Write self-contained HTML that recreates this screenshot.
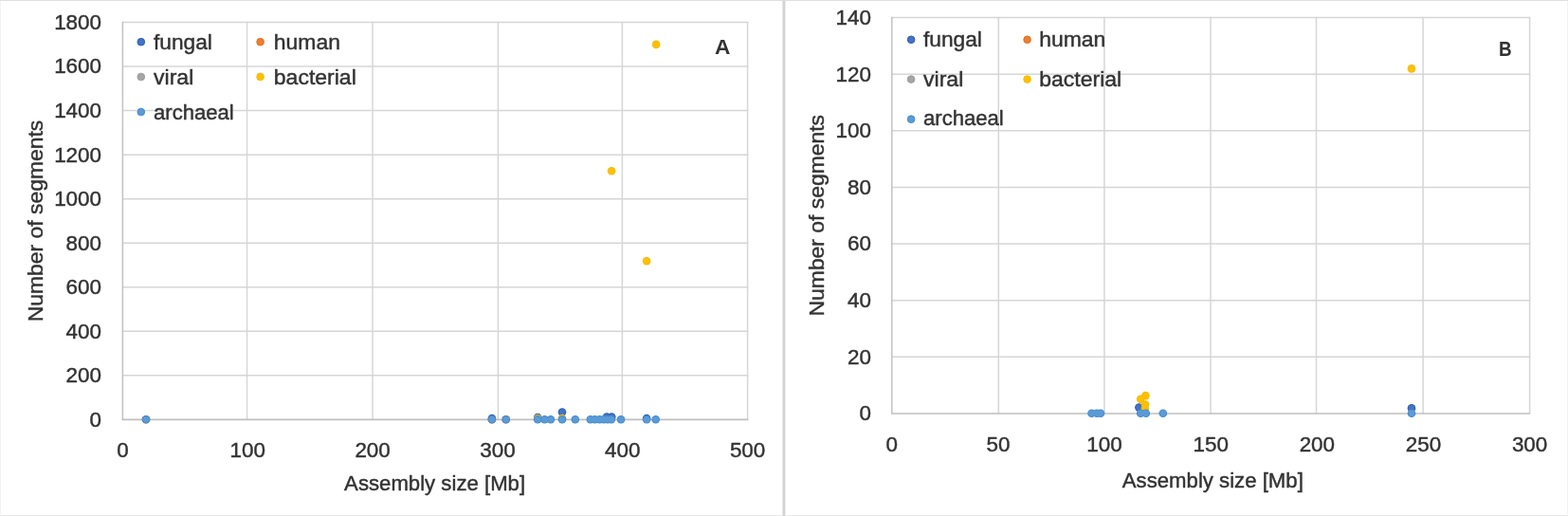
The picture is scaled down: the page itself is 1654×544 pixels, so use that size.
<!DOCTYPE html>
<html><head><meta charset="utf-8"><title>Assembly size vs number of segments</title>
<style>
html,body{margin:0;padding:0;background:#fff;}
body{width:1654px;height:544px;overflow:hidden;position:relative;}
svg{position:absolute;left:0;top:0;display:block;}
svg text{font-family:"Liberation Sans", "DejaVu Sans", sans-serif;font-size:22.8px;fill:#333333;stroke:#333333;stroke-width:0.45px;}
</style></head>
<body>
<svg width="1654" height="544" viewBox="0 0 1654 544">
<rect x="0" y="0" width="1654" height="544" fill="#ffffff"/>
<rect x="0" y="0" width="1654" height="1" fill="#e0e0e0"/>
<rect x="0" y="543" width="1654" height="1" fill="#e8e8e8"/>
<rect x="0" y="0" width="1" height="544" fill="#f2f2f2"/>
<rect x="1653" y="0" width="1" height="544" fill="#f2f2f2"/>
<rect x="825" y="0" width="1" height="544" fill="#e6e6e6"/>
<rect x="826" y="0" width="2" height="544" fill="#d3d3d3"/>
<rect x="828" y="0" width="1" height="544" fill="#eeeeee"/>
<rect x="0" y="0" width="1654" height="1" fill="#e0e0e0"/>
<line x1="129.40" y1="395.86" x2="789.30" y2="395.86" stroke="#d6d6d6" stroke-width="1.5"/>
<line x1="129.40" y1="349.31" x2="789.30" y2="349.31" stroke="#d6d6d6" stroke-width="1.5"/>
<line x1="129.40" y1="302.77" x2="789.30" y2="302.77" stroke="#d6d6d6" stroke-width="1.5"/>
<line x1="129.40" y1="256.22" x2="789.30" y2="256.22" stroke="#d6d6d6" stroke-width="1.5"/>
<line x1="129.40" y1="209.68" x2="789.30" y2="209.68" stroke="#d6d6d6" stroke-width="1.5"/>
<line x1="129.40" y1="163.13" x2="789.30" y2="163.13" stroke="#d6d6d6" stroke-width="1.5"/>
<line x1="129.40" y1="116.59" x2="789.30" y2="116.59" stroke="#d6d6d6" stroke-width="1.5"/>
<line x1="129.40" y1="70.04" x2="789.30" y2="70.04" stroke="#d6d6d6" stroke-width="1.5"/>
<line x1="129.40" y1="23.50" x2="789.30" y2="23.50" stroke="#d6d6d6" stroke-width="1.5"/>
<line x1="129.40" y1="22.80" x2="129.40" y2="442.40" stroke="#c2c2c2" stroke-width="1.5"/>
<line x1="260.50" y1="22.80" x2="260.50" y2="442.40" stroke="#d6d6d6" stroke-width="1.5"/>
<line x1="393.00" y1="22.80" x2="393.00" y2="442.40" stroke="#d6d6d6" stroke-width="1.5"/>
<line x1="525.40" y1="22.80" x2="525.40" y2="442.40" stroke="#d6d6d6" stroke-width="1.5"/>
<line x1="656.40" y1="22.80" x2="656.40" y2="442.40" stroke="#d6d6d6" stroke-width="1.5"/>
<line x1="788.60" y1="22.80" x2="788.60" y2="442.40" stroke="#d6d6d6" stroke-width="1.5"/>
<line x1="128.70" y1="442.40" x2="789.30" y2="442.40" stroke="#bfbfbf" stroke-width="1.7"/>
<text x="107.00" y="449.80" text-anchor="end" textLength="12.47" lengthAdjust="spacingAndGlyphs">0</text>
<text x="107.00" y="403.26" text-anchor="end" textLength="37.41" lengthAdjust="spacingAndGlyphs">200</text>
<text x="107.00" y="356.71" text-anchor="end" textLength="37.41" lengthAdjust="spacingAndGlyphs">400</text>
<text x="107.00" y="310.17" text-anchor="end" textLength="37.41" lengthAdjust="spacingAndGlyphs">600</text>
<text x="107.00" y="263.62" text-anchor="end" textLength="37.41" lengthAdjust="spacingAndGlyphs">800</text>
<text x="107.00" y="217.08" text-anchor="end" textLength="49.87" lengthAdjust="spacingAndGlyphs">1000</text>
<text x="107.00" y="170.53" text-anchor="end" textLength="49.87" lengthAdjust="spacingAndGlyphs">1200</text>
<text x="107.00" y="123.99" text-anchor="end" textLength="49.87" lengthAdjust="spacingAndGlyphs">1400</text>
<text x="107.00" y="77.44" text-anchor="end" textLength="49.87" lengthAdjust="spacingAndGlyphs">1600</text>
<text x="107.00" y="30.90" text-anchor="end" textLength="49.87" lengthAdjust="spacingAndGlyphs">1800</text>
<text x="129.40" y="482.20" text-anchor="middle" textLength="12.47" lengthAdjust="spacingAndGlyphs">0</text>
<text x="261.24" y="482.20" text-anchor="middle" textLength="37.41" lengthAdjust="spacingAndGlyphs">100</text>
<text x="393.08" y="482.20" text-anchor="middle" textLength="37.41" lengthAdjust="spacingAndGlyphs">200</text>
<text x="524.92" y="482.20" text-anchor="middle" textLength="37.41" lengthAdjust="spacingAndGlyphs">300</text>
<text x="656.76" y="482.20" text-anchor="middle" textLength="37.41" lengthAdjust="spacingAndGlyphs">400</text>
<text x="788.60" y="482.20" text-anchor="middle" textLength="37.41" lengthAdjust="spacingAndGlyphs">500</text>
<text x="458.60" y="517.40" text-anchor="middle" textLength="191.0" lengthAdjust="spacingAndGlyphs">Assembly size [Mb]</text>
<text transform="translate(44.70,233.00) rotate(-90)" x="0" y="0" text-anchor="middle" textLength="212.5" lengthAdjust="spacingAndGlyphs">Number of segments</text>
<circle cx="148.80" cy="44.20" r="3.85" fill="#4472C4" stroke="#2A5AB8" stroke-width="0.9"/>
<text x="162.00" y="51.70" textLength="61.91" lengthAdjust="spacingAndGlyphs">fungal</text>
<circle cx="274.60" cy="44.20" r="3.85" fill="#ED7D31" stroke="#E0701F" stroke-width="0.9"/>
<text x="288.80" y="51.70" textLength="70.21" lengthAdjust="spacingAndGlyphs">human</text>
<circle cx="148.80" cy="81.00" r="3.85" fill="#A5A5A5" stroke="#9A9A9A" stroke-width="0.9"/>
<text x="162.00" y="88.50" textLength="42.26" lengthAdjust="spacingAndGlyphs">viral</text>
<circle cx="274.60" cy="81.00" r="3.85" fill="#FFC000" stroke="#F5B800" stroke-width="0.9"/>
<text x="288.80" y="88.50" textLength="86.98" lengthAdjust="spacingAndGlyphs">bacterial</text>
<circle cx="148.80" cy="118.00" r="3.85" fill="#5B9BD5" stroke="#3F87D3" stroke-width="0.9"/>
<text x="162.00" y="125.50" textLength="84.78" lengthAdjust="spacingAndGlyphs">archaeal</text>
<text x="762.30" y="56.60" font-weight="bold" text-anchor="middle" textLength="16.4" lengthAdjust="spacingAndGlyphs" style="stroke-width:0;font-size:22.8px">A</text>
<g fill="#2A5AB8"><circle cx="518.90" cy="441.00" r="4.30"/><circle cx="567.20" cy="440.00" r="4.30"/><circle cx="593.00" cy="434.60" r="4.30"/><circle cx="640.00" cy="439.60" r="4.30"/><circle cx="645.20" cy="439.60" r="4.30"/><circle cx="682.10" cy="441.00" r="4.30"/></g>
<g fill="#4472C4"><circle cx="518.90" cy="441.00" r="3.40"/><circle cx="567.20" cy="440.00" r="3.40"/><circle cx="593.00" cy="434.60" r="3.40"/><circle cx="640.00" cy="439.60" r="3.40"/><circle cx="645.20" cy="439.60" r="3.40"/><circle cx="682.10" cy="441.00" r="3.40"/></g>
<g fill="#E0701F"><circle cx="154.00" cy="442.30" r="4.30"/><circle cx="518.90" cy="442.30" r="4.30"/><circle cx="533.70" cy="442.30" r="4.30"/></g>
<g fill="#ED7D31"><circle cx="154.00" cy="442.30" r="3.40"/><circle cx="518.90" cy="442.30" r="3.40"/><circle cx="533.70" cy="442.30" r="3.40"/></g>
<g fill="#9A9A9A"><circle cx="567.20" cy="441.50" r="4.30"/></g>
<g fill="#A5A5A5"><circle cx="567.20" cy="441.50" r="3.40"/></g>
<g fill="#F5B800"><circle cx="692.10" cy="46.90" r="4.30"/><circle cx="645.10" cy="180.30" r="4.30"/><circle cx="682.10" cy="275.30" r="4.30"/><circle cx="567.20" cy="441.40" r="4.30"/><circle cx="593.00" cy="441.00" r="4.30"/></g>
<g fill="#FFC000"><circle cx="692.10" cy="46.90" r="3.40"/><circle cx="645.10" cy="180.30" r="3.40"/><circle cx="682.10" cy="275.30" r="3.40"/><circle cx="567.20" cy="441.40" r="3.40"/><circle cx="593.00" cy="441.00" r="3.40"/></g>
<g fill="#3F87D3"><circle cx="154.00" cy="442.30" r="4.30"/><circle cx="518.90" cy="442.30" r="4.30"/><circle cx="533.70" cy="442.30" r="4.30"/><circle cx="567.20" cy="442.30" r="4.30"/><circle cx="574.50" cy="442.30" r="4.30"/><circle cx="580.90" cy="442.30" r="4.30"/><circle cx="593.00" cy="442.30" r="4.30"/><circle cx="606.80" cy="442.30" r="4.30"/><circle cx="622.80" cy="442.30" r="4.30"/><circle cx="627.50" cy="442.30" r="4.30"/><circle cx="632.50" cy="442.30" r="4.30"/><circle cx="637.00" cy="442.30" r="4.30"/><circle cx="641.00" cy="442.30" r="4.30"/><circle cx="644.80" cy="442.30" r="4.30"/><circle cx="655.00" cy="442.30" r="4.30"/><circle cx="682.10" cy="442.30" r="4.30"/><circle cx="691.70" cy="442.30" r="4.30"/></g>
<g fill="#5B9BD5"><circle cx="154.00" cy="442.30" r="3.40"/><circle cx="518.90" cy="442.30" r="3.40"/><circle cx="533.70" cy="442.30" r="3.40"/><circle cx="567.20" cy="442.30" r="3.40"/><circle cx="574.50" cy="442.30" r="3.40"/><circle cx="580.90" cy="442.30" r="3.40"/><circle cx="593.00" cy="442.30" r="3.40"/><circle cx="606.80" cy="442.30" r="3.40"/><circle cx="622.80" cy="442.30" r="3.40"/><circle cx="627.50" cy="442.30" r="3.40"/><circle cx="632.50" cy="442.30" r="3.40"/><circle cx="637.00" cy="442.30" r="3.40"/><circle cx="641.00" cy="442.30" r="3.40"/><circle cx="644.80" cy="442.30" r="3.40"/><circle cx="655.00" cy="442.30" r="3.40"/><circle cx="682.10" cy="442.30" r="3.40"/><circle cx="691.70" cy="442.30" r="3.40"/></g>
<line x1="940.80" y1="376.36" x2="1614.30" y2="376.36" stroke="#d6d6d6" stroke-width="1.5"/>
<line x1="940.80" y1="316.71" x2="1614.30" y2="316.71" stroke="#d6d6d6" stroke-width="1.5"/>
<line x1="940.80" y1="257.07" x2="1614.30" y2="257.07" stroke="#d6d6d6" stroke-width="1.5"/>
<line x1="940.80" y1="197.43" x2="1614.30" y2="197.43" stroke="#d6d6d6" stroke-width="1.5"/>
<line x1="940.80" y1="137.79" x2="1614.30" y2="137.79" stroke="#d6d6d6" stroke-width="1.5"/>
<line x1="940.80" y1="78.14" x2="1614.30" y2="78.14" stroke="#d6d6d6" stroke-width="1.5"/>
<line x1="940.80" y1="18.50" x2="1614.30" y2="18.50" stroke="#d6d6d6" stroke-width="1.5"/>
<line x1="940.80" y1="17.80" x2="940.80" y2="436.00" stroke="#c2c2c2" stroke-width="1.5"/>
<line x1="1053.30" y1="17.80" x2="1053.30" y2="436.00" stroke="#d6d6d6" stroke-width="1.5"/>
<line x1="1164.90" y1="17.80" x2="1164.90" y2="436.00" stroke="#d6d6d6" stroke-width="1.5"/>
<line x1="1277.00" y1="17.80" x2="1277.00" y2="436.00" stroke="#d6d6d6" stroke-width="1.5"/>
<line x1="1388.50" y1="17.80" x2="1388.50" y2="436.00" stroke="#d6d6d6" stroke-width="1.5"/>
<line x1="1501.10" y1="17.80" x2="1501.10" y2="436.00" stroke="#d6d6d6" stroke-width="1.5"/>
<line x1="1613.60" y1="17.80" x2="1613.60" y2="436.00" stroke="#d6d6d6" stroke-width="1.5"/>
<line x1="940.10" y1="436.00" x2="1614.30" y2="436.00" stroke="#bfbfbf" stroke-width="1.7"/>
<text x="919.00" y="443.40" text-anchor="end" textLength="12.47" lengthAdjust="spacingAndGlyphs">0</text>
<text x="919.00" y="383.76" text-anchor="end" textLength="24.94" lengthAdjust="spacingAndGlyphs">20</text>
<text x="919.00" y="324.11" text-anchor="end" textLength="24.94" lengthAdjust="spacingAndGlyphs">40</text>
<text x="919.00" y="264.47" text-anchor="end" textLength="24.94" lengthAdjust="spacingAndGlyphs">60</text>
<text x="919.00" y="204.83" text-anchor="end" textLength="24.94" lengthAdjust="spacingAndGlyphs">80</text>
<text x="919.00" y="145.19" text-anchor="end" textLength="37.41" lengthAdjust="spacingAndGlyphs">100</text>
<text x="919.00" y="85.54" text-anchor="end" textLength="37.41" lengthAdjust="spacingAndGlyphs">120</text>
<text x="919.00" y="25.90" text-anchor="end" textLength="37.41" lengthAdjust="spacingAndGlyphs">140</text>
<text x="940.80" y="475.80" text-anchor="middle" textLength="12.47" lengthAdjust="spacingAndGlyphs">0</text>
<text x="1052.93" y="475.80" text-anchor="middle" textLength="24.94" lengthAdjust="spacingAndGlyphs">50</text>
<text x="1165.07" y="475.80" text-anchor="middle" textLength="37.41" lengthAdjust="spacingAndGlyphs">100</text>
<text x="1277.20" y="475.80" text-anchor="middle" textLength="37.41" lengthAdjust="spacingAndGlyphs">150</text>
<text x="1389.33" y="475.80" text-anchor="middle" textLength="37.41" lengthAdjust="spacingAndGlyphs">200</text>
<text x="1501.47" y="475.80" text-anchor="middle" textLength="37.41" lengthAdjust="spacingAndGlyphs">250</text>
<text x="1613.60" y="475.80" text-anchor="middle" textLength="37.41" lengthAdjust="spacingAndGlyphs">300</text>
<text x="1279.30" y="514.00" text-anchor="middle" textLength="191.0" lengthAdjust="spacingAndGlyphs">Assembly size [Mb]</text>
<text transform="translate(869.20,227.20) rotate(-90)" x="0" y="0" text-anchor="middle" textLength="212.5" lengthAdjust="spacingAndGlyphs">Number of segments</text>
<circle cx="961.10" cy="41.80" r="3.85" fill="#4472C4" stroke="#2A5AB8" stroke-width="0.9"/>
<text x="974.00" y="49.10" textLength="61.91" lengthAdjust="spacingAndGlyphs">fungal</text>
<circle cx="1083.60" cy="41.80" r="3.85" fill="#ED7D31" stroke="#E0701F" stroke-width="0.9"/>
<text x="1096.20" y="49.10" textLength="70.21" lengthAdjust="spacingAndGlyphs">human</text>
<circle cx="961.10" cy="83.60" r="3.85" fill="#A5A5A5" stroke="#9A9A9A" stroke-width="0.9"/>
<text x="974.00" y="90.50" textLength="42.26" lengthAdjust="spacingAndGlyphs">viral</text>
<circle cx="1083.60" cy="83.60" r="3.85" fill="#FFC000" stroke="#F5B800" stroke-width="0.9"/>
<text x="1096.20" y="90.50" textLength="86.98" lengthAdjust="spacingAndGlyphs">bacterial</text>
<circle cx="961.10" cy="125.70" r="3.85" fill="#5B9BD5" stroke="#3F87D3" stroke-width="0.9"/>
<text x="974.00" y="132.30" textLength="84.78" lengthAdjust="spacingAndGlyphs">archaeal</text>
<text x="1587.90" y="58.90" font-weight="bold" text-anchor="middle" textLength="13.6" lengthAdjust="spacingAndGlyphs" style="stroke-width:0;font-size:22.8px">B</text>
<g fill="#2A5AB8"><circle cx="1201.40" cy="429.60" r="4.30"/><circle cx="1489.00" cy="430.40" r="4.30"/></g>
<g fill="#4472C4"><circle cx="1201.40" cy="429.60" r="3.40"/><circle cx="1489.00" cy="430.40" r="3.40"/></g>
<g fill="#F5B800"><circle cx="1489.00" cy="72.40" r="4.30"/><circle cx="1203.20" cy="420.80" r="4.30"/><circle cx="1208.40" cy="417.10" r="4.30"/><circle cx="1208.00" cy="426.50" r="4.30"/><circle cx="1207.80" cy="431.00" r="4.30"/></g>
<g fill="#FFC000"><circle cx="1489.00" cy="72.40" r="3.40"/><circle cx="1203.20" cy="420.80" r="3.40"/><circle cx="1208.40" cy="417.10" r="3.40"/><circle cx="1208.00" cy="426.50" r="3.40"/><circle cx="1207.80" cy="431.00" r="3.40"/></g>
<g fill="#3F87D3"><circle cx="1151.50" cy="435.70" r="4.30"/><circle cx="1157.00" cy="435.70" r="4.30"/><circle cx="1161.00" cy="435.70" r="4.30"/><circle cx="1203.20" cy="435.70" r="4.30"/><circle cx="1208.80" cy="435.70" r="4.30"/><circle cx="1226.80" cy="435.70" r="4.30"/><circle cx="1489.00" cy="435.70" r="4.30"/></g>
<g fill="#5B9BD5"><circle cx="1151.50" cy="435.70" r="3.40"/><circle cx="1157.00" cy="435.70" r="3.40"/><circle cx="1161.00" cy="435.70" r="3.40"/><circle cx="1203.20" cy="435.70" r="3.40"/><circle cx="1208.80" cy="435.70" r="3.40"/><circle cx="1226.80" cy="435.70" r="3.40"/><circle cx="1489.00" cy="435.70" r="3.40"/></g>
</svg>
</body></html>
